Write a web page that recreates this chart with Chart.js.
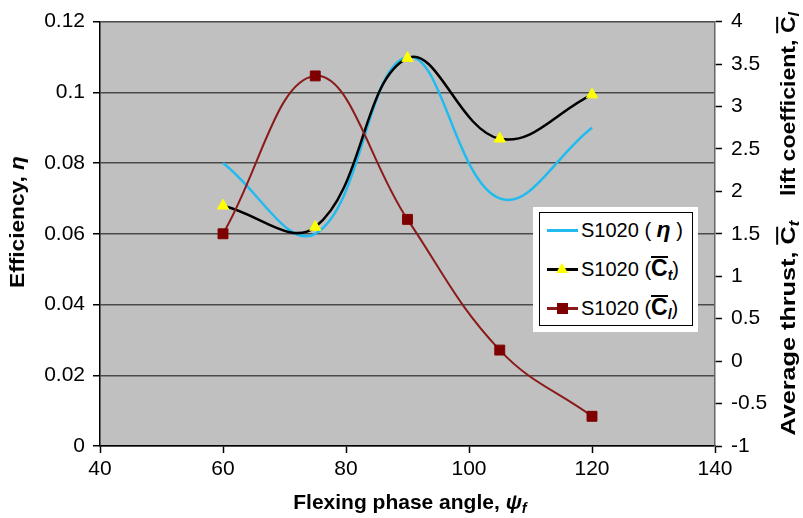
<!DOCTYPE html>
<html><head><meta charset="utf-8">
<script src="https://cdn.jsdelivr.net/npm/chart.js@4.4.1/dist/chart.umd.min.js"></script>
<style>
body{margin:0;background:#fff;}
#wrap{position:relative;width:803px;height:518px;font-family:"Liberation Sans",Arial,sans-serif;color:#000;}
canvas{position:absolute;left:0;top:0;}
.t{position:absolute;font-weight:bold;font-size:21px;white-space:nowrap;transform:translate(-50%,-50%);}
.ov{display:inline-block;border-top:2px solid #000;line-height:0.85;padding-top:1px;}
sub{font-size:0.7em;font-style:italic;vertical-align:-0.25em;}
#leg{position:absolute;left:533px;top:207px;width:165px;height:125px;background:#fff;}
#leg .box{position:absolute;left:6px;top:5px;width:154px;height:114px;border:1.5px solid #000;box-sizing:border-box;}
#leg .ln{position:absolute;left:14px;width:31px;height:2.5px;}
#leg .tx{position:absolute;left:48px;font-size:20px;line-height:24px;white-space:nowrap;}
#leg .big{font-size:1.15em;}
</style></head>
<body>
<div id="wrap">
<canvas id="c" width="803" height="518"></canvas>
<div class="t" style="left:17px;top:222px;transform:translate(-50%,-50%) rotate(-90deg) scaleX(1.08);">Efficiency, <i>η</i></div>
<div class="t" style="left:410px;top:503px;">Flexing phase angle, <i>ψ</i><sub>f</sub></div>
<div class="t" style="left:789px;top:328px;transform:translate(-50%,-50%) rotate(-90deg) scaleX(1.2);">Average thrust, <span class="ov">C</span><sub>t</sub></div>
<div class="t" style="left:789px;top:104px;transform:translate(-50%,-50%) rotate(-90deg) scaleX(1.1);">lift coefficient, <span class="ov">C</span><sub>l</sub></div>
<div id="leg">
  <div class="box"></div>
  <div class="ln" style="top:22px;background:#22BBEE;"></div>
  <div class="tx" style="top:10px;">S1020 ( <b><i class="big">η</i></b> )</div>
  <div class="ln" style="top:61px;background:#000;"></div>
  <div style="position:absolute;left:23px;top:56px;width:0;height:0;border-left:6px solid transparent;border-right:6px solid transparent;border-bottom:10px solid #FFFF00;"></div>
  <div class="tx" style="top:49px;">S1020 (<b><span class="ov big">C</span><sub>t</sub></b>)</div>
  <div class="ln" style="top:100px;background:#8B1A1A;"></div>
  <div style="position:absolute;left:24px;top:96px;width:11px;height:11px;background:#7F0000;"></div>
  <div class="tx" style="top:88px;">S1020 (<b><span class="ov big">C</span><sub>l</sub></b>)</div>
</div>
</div>
<script>
const angles = [60, 75, 90, 105, 120];
const efficiency = [0.080, 0.060, 0.110, 0.070, 0.090];
const thrust = [1.83, 1.58, 3.57, 2.62, 3.14];
const lift = [1.50, 3.36, 1.67, 0.13, -0.65];
const xRange = [40, 140];
const effRange = [0, 0.12];
const coefRange = [-1, 4];

const pts = (ys) => angles.map((x, i) => ({x: x, y: ys[i]}));

const plotBg = {
  id: 'plotBg',
  beforeDraw(chart) {
    const {ctx, chartArea: a} = chart;
    ctx.save();
    ctx.fillStyle = '#C0C0C0';
    ctx.fillRect(a.left, a.top, a.right - a.left, a.bottom - a.top);
    ctx.restore();
  }
};

const tickFont = {family: '"Liberation Sans", Arial, sans-serif', size: 21};
const fmt = (v) => String(Number(v.toFixed(2)));

new Chart(document.getElementById('c'), {
  type: 'line',
  data: {
    datasets: [
      {label: 'S1020 (η)', data: pts(efficiency), yAxisID: 'y', borderColor: '#22BBEE',
       borderWidth: 2.5, pointRadius: 0, tension: 0.4, order: 3},
      {label: 'S1020 (Ct)', data: pts(thrust), yAxisID: 'y1', borderColor: '#000',
       borderWidth: 2.5, pointStyle: 'triangle', pointRadius: 6.5, pointBackgroundColor: '#FFFF00',
       pointBorderColor: '#FFFF00', pointBorderWidth: 1, tension: 0.4, order: 2},
      {label: 'S1020 (Cl)', data: pts(lift), yAxisID: 'y1', borderColor: '#8B1A1A',
       borderWidth: 2, pointStyle: 'rect', pointRadius: 7, pointBackgroundColor: '#7F0000',
       pointBorderColor: '#7F0000', pointBorderWidth: 1, tension: 0.4, order: 1}
    ]
  },
  options: {
    responsive: false,
    animation: false,
    devicePixelRatio: 1,
    layout: {padding: {top: 16, left: 0, right: 0, bottom: 0}},
    plugins: {legend: {display: false}, tooltip: {enabled: false}},
    scales: {
      x: {
        type: 'linear', min: xRange[0], max: xRange[1],
        ticks: {stepSize: 20, font: tickFont, color: '#000', padding: 4, maxRotation: 0},
        grid: {drawOnChartArea: false, tickLength: 7, tickColor: '#000', tickWidth: 1.5},
        border: {color: '#000', width: 1.5},
        afterFit: (s) => { s.height = 72; }
      },
      y: {
        position: 'left', min: effRange[0], max: effRange[1],
        ticks: {stepSize: 0.02, font: tickFont, color: '#000', padding: 8, callback: fmt},
        grid: {color: '#4a4a4a', lineWidth: 1.5, tickLength: 7, tickColor: '#000', tickWidth: 1.5},
        border: {color: '#000', width: 1.5},
        afterFit: (s) => { s.width = 100; }
      },
      y1: {
        position: 'right', min: coefRange[0], max: coefRange[1],
        ticks: {stepSize: 0.5, font: tickFont, color: '#000', padding: 9, callback: fmt},
        grid: {drawOnChartArea: false, tickLength: 7, tickColor: '#000', tickWidth: 1.5},
        border: {color: '#666', width: 1.5},
        afterFit: (s) => { s.width = 88; }
      }
    }
  },
  plugins: [plotBg]
});
</script>
</body></html>
